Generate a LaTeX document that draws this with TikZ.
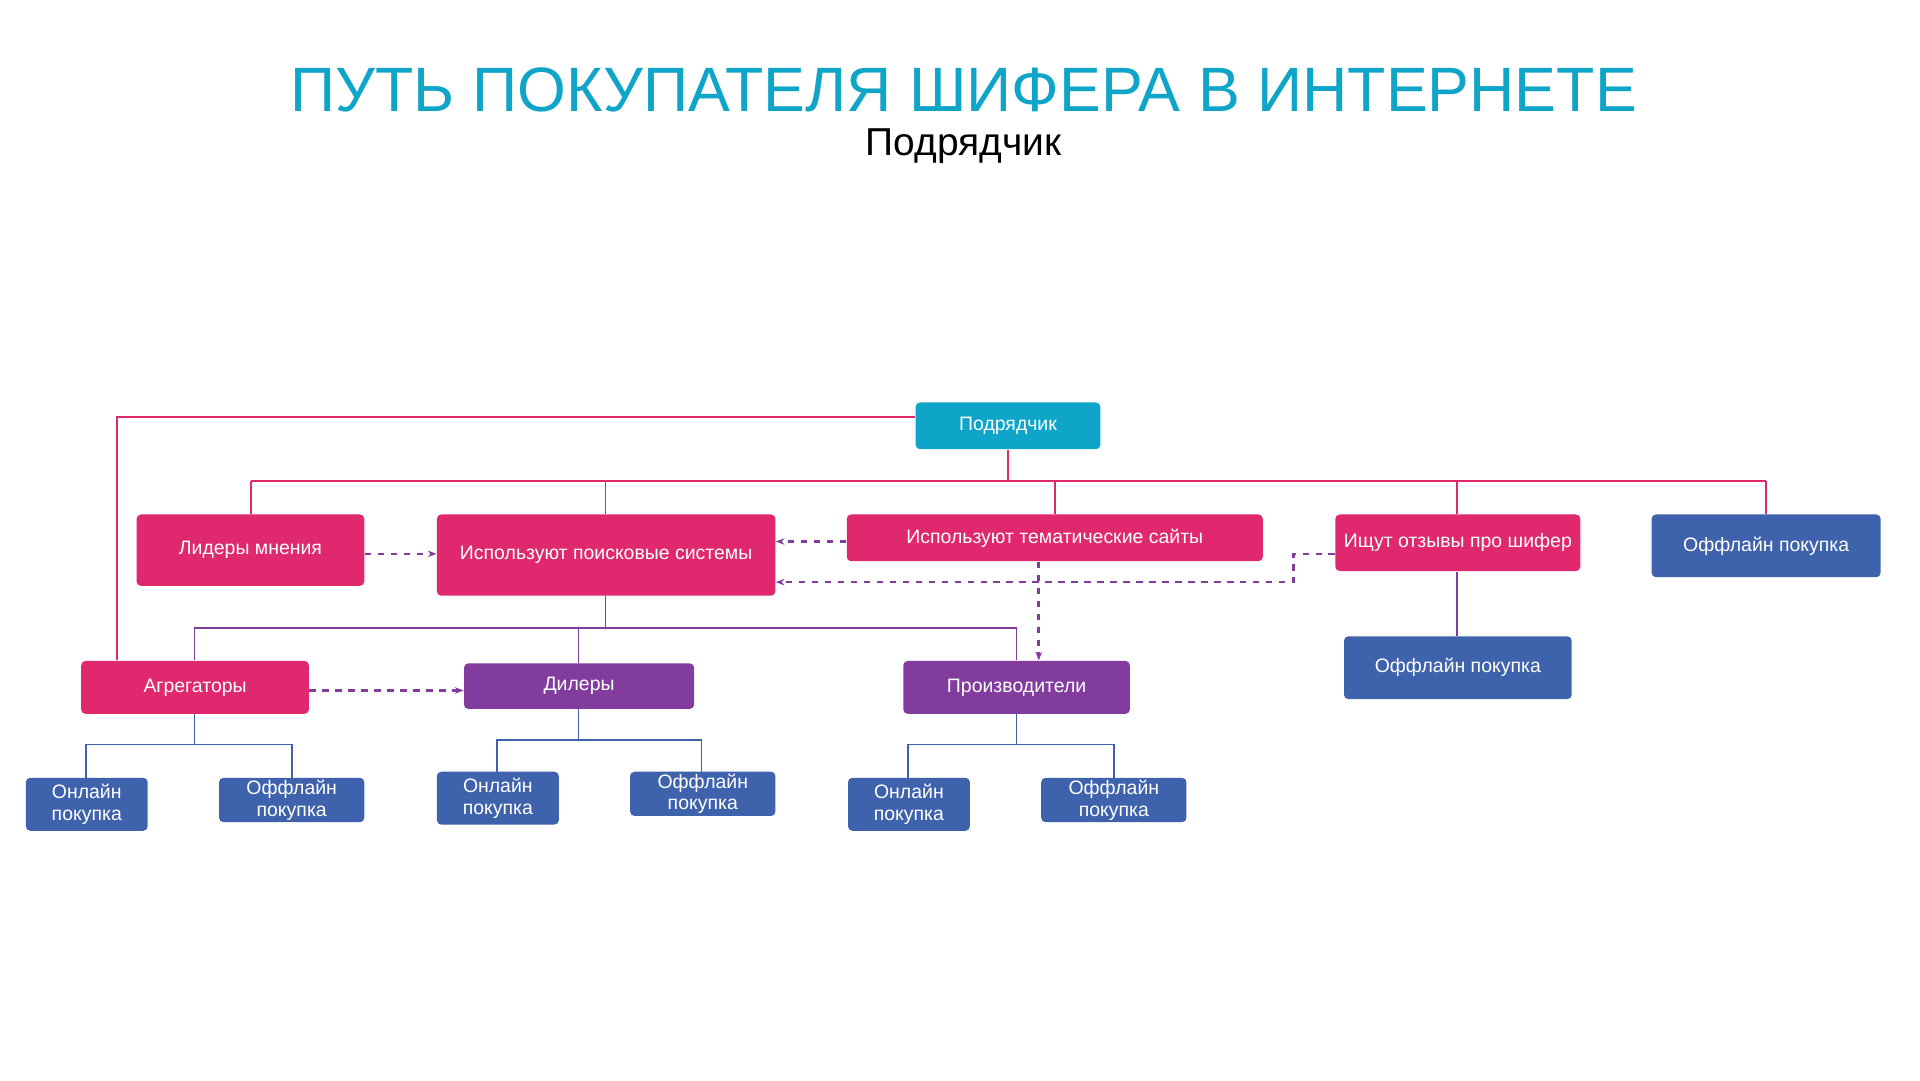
\documentclass[tikz,border=0pt]{standalone}
\usepackage{fontspec}
\setmainfont{Liberation Sans}
\usetikzlibrary{arrows.meta}
\definecolor{cy}{HTML}{0EA5C9}
\definecolor{pk}{HTML}{E0286E}
\definecolor{pu}{HTML}{813C9E}
\definecolor{bl}{HTML}{3F62AD}
\begin{document}
\begin{tikzpicture}[x=0.02cm,y=-0.02cm,
 bx/.style={draw=none,rounded corners=2pt,text=white,font=\fontsize{9}{10}\selectfont,align=center,inner sep=0pt},
 pl/.style={draw=pk,line width=0.8pt},
 pul/.style={draw=pu,line width=0.8pt},
 bll/.style={draw=bl,line width=0.8pt},
 da/.style={draw=pu,dashed,line width=1.2pt,-{Stealth[length=4pt]}}]
\fill[white] (0,0) rectangle (1560,878);
\node[text=cy,font=\fontsize{29}{32}\selectfont] (title) at (783,73) {ПУТЬ ПОКУПАТЕЛЯ ШИФЕРА В ИНТЕРНЕТЕ};
\node[font=\fontsize{18}{20}\selectfont] (sub) at (783,119) {Подрядчик};
\def\bxn#1#2#3#4#5#6#7{\path[fill=#2,rounded corners=2pt] (#3,#4) rectangle (#5,#6); \node[bx,minimum width={(#5-#3)*0.02cm},minimum height={(#6-#4)*0.02cm}] (#1) at ({(#3+#5)/2},{(#4+#6)/2}) {#7};}
\bxn{top}{cy}{744}{327}{894}{365}{Подрядчик}
\bxn{lid}{pk}{111}{418}{296}{476}{Лидеры мнения}
\bxn{srch}{pk}{355}{418}{630}{484}{Используют поисковые системы}
\bxn{tema}{pk}{688}{418}{1026}{456}{Используют тематические сайты}
\bxn{otz}{pk}{1085}{418}{1284}{464}{Ищут отзывы про шифер}
\bxn{offa}{bl}{1342}{418}{1528}{469}{Оффлайн покупка}
\bxn{offb}{bl}{1092}{517}{1277}{568}{Оффлайн покупка}
\bxn{agr}{pk}{66}{537}{251}{580}{Агрегаторы}
\bxn{dil}{pu}{377}{539}{564}{576}{Дилеры}
\bxn{prz}{pu}{734}{537}{918}{580}{Производители}
\bxn{aon}{bl}{21}{632}{120}{675}{Онлайн\\покупка}
\bxn{aoff}{bl}{178}{632}{296}{668}{Оффлайн\\покупка}
\bxn{don}{bl}{355}{627}{454}{670}{Онлайн\\покупка}
\bxn{doff}{bl}{512}{627}{630}{663}{Оффлайн\\покупка}
\bxn{pon}{bl}{689}{632}{788}{675}{Онлайн\\покупка}
\bxn{poff}{bl}{846}{632}{964}{668}{Оффлайн\\покупка}
% pink tree
\draw[pl] (top.south) -- (819,391);
\draw[pl] (204,391) -- (1435,391);
\draw[pl] (204,391) -- (lid.north-|204,0);
\draw[pl] (492,391) -- (srch.north-|492,0);
\draw[pl] (857,391) -- (tema.north-|857,0);
\draw[pl] (1184,391) -- (otz.north-|1184,0);
\draw[pl] (1435,391) -- (offa.north);
\draw[pl] (top.west|-0,339) -- (95,339) -- (agr.north-|95,0);
\draw[pu,line width=0.8pt] (otz.south-|1184,0) -- (offb.north-|1184,0);
% purple tree
\draw[pul] (srch.south-|492,0) -- (492,510);
\draw[pul] (158,510) -- (826,510);
\draw[pul] (158,510) -- (agr.north-|158,0);
\draw[pul] (470,510) -- (dil.north-|470,0);
\draw[pul] (826,510) -- (prz.north);
% blue trees
\draw[bll] (agr.south-|158,0) -- (158,605); \draw[bll] (70,632) -- (70,605) -- (237,605) -- (237,632);
\draw[bll] (dil.south-|470,0) -- (470,601); \draw[bll] (404,627) -- (404,601) -- (570,601) -- (570,627);
\draw[bll] (prz.south) -- (826,605); \draw[bll] (738,632) -- (738,605) -- (905,605) -- (905,632);
% dashed
\draw[da] (lid.east|-0,450) -- (srch.west|-0,450);
\draw[da] (tema.west|-0,440) -- (srch.east|-0,440);
\draw[da] (otz.west|-0,450) -- (1051,450) -- (1051,473) -- (srch.east|-0,473);
\draw[da] (tema.south-|844,0) -- (prz.north-|844,0);
\draw[da] (agr.east|-0,561) -- (dil.west|-0,561);
\end{tikzpicture}
\end{document}
